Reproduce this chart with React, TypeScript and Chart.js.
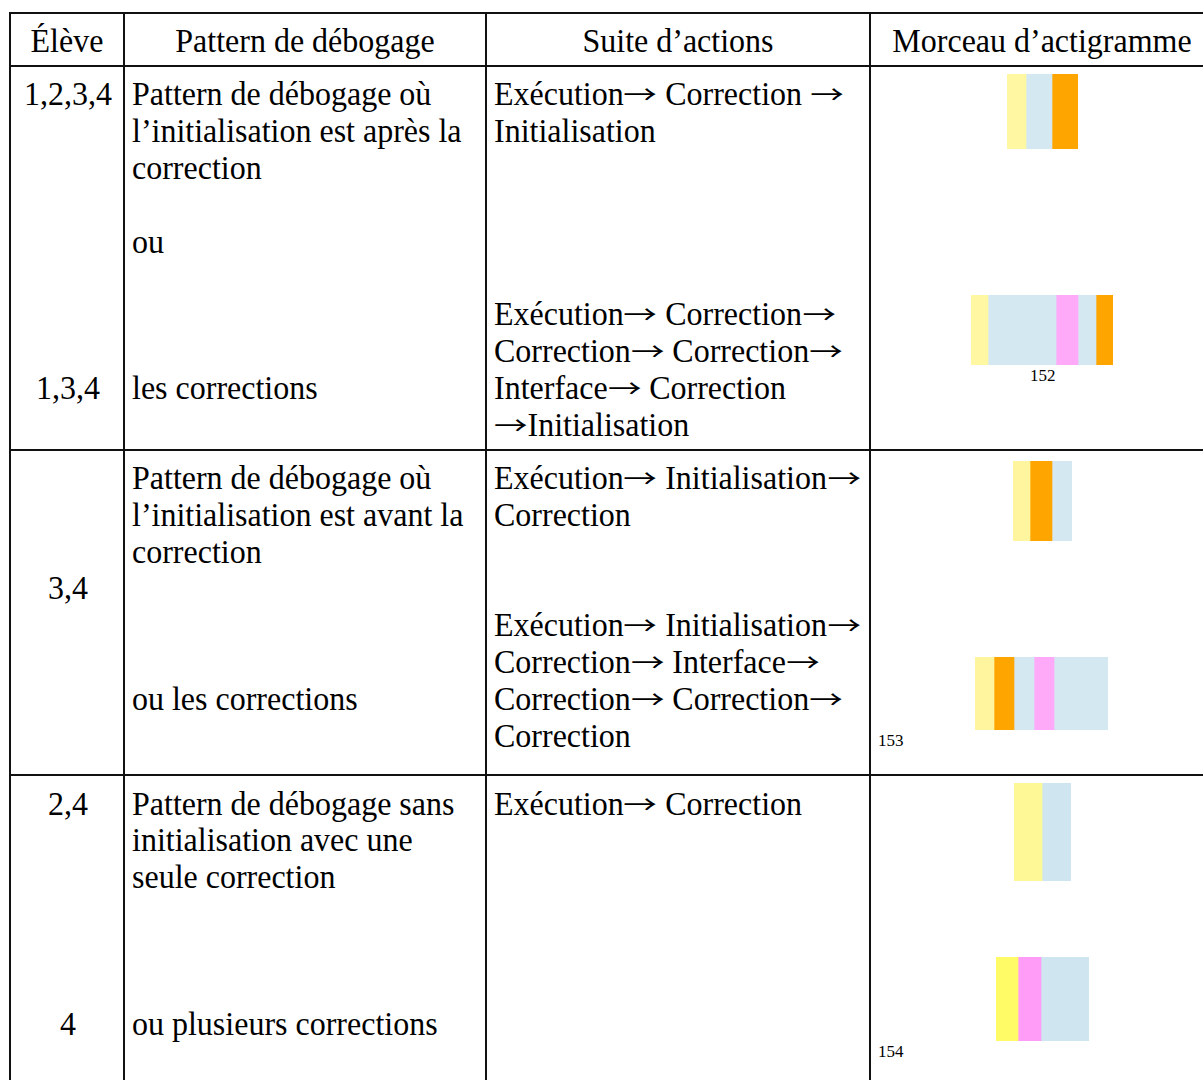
import React, { useEffect, useRef } from "react";
import { Chart, registerables } from "chart.js";

Chart.register(...registerables);

// ---- Data ----
const headers = ["Élève", "Pattern de débogage", "Suite d’actions", "Morceau d’actigramme"];

// actigram strips: durations (px units) of successive actions and their colours
const strip1Actions = ["Exécution", "Correction", "Initialisation"];
const strip1Durations = [19, 26, 26];
const strip1Colors = ["#FFF7A2", "#D4E8F2", "#FFA500"];

const strip2Actions = ["Exécution", "Correction", "Interface", "Correction", "Initialisation"];
const strip2Durations = [17, 68, 22, 18, 17];
const strip2Colors = ["#FFF7A2", "#D4E8F2", "#FFAAF9", "#D4E8F2", "#FFA500"];

const strip3Actions = ["Exécution", "Initialisation", "Correction"];
const strip3Durations = [17, 22, 20];
const strip3Colors = ["#FFF59E", "#FFA500", "#D4E8F2"];

const strip4Actions = ["Exécution", "Initialisation", "Correction", "Interface", "Correction"];
const strip4Durations = [19, 20, 20, 20, 54];
const strip4Colors = ["#FFF59E", "#FFA500", "#D4E8F2", "#FFAAF9", "#D4E8F2"];

const strip5Actions = ["Exécution", "Correction"];
const strip5Durations = [28, 29];
const strip5Colors = ["#FFF896", "#CFE6F1"];

const strip6Actions = ["Exécution", "Interface", "Correction"];
const strip6Durations = [22, 23, 48];
const strip6Colors = ["#FFFB66", "#FF9CF8", "#CFE6F1"];

const captions = ["152", "153", "154"];

// ---- Components ----
function Strip(props: {
  actions: string[];
  durations: number[];
  colors: string[];
  left: number;
  top: number;
  height: number;
}) {
  const ref = useRef<HTMLCanvasElement | null>(null);
  const total = props.durations.reduce((a, b) => a + b, 0);
  useEffect(() => {
    if (!ref.current) return;
    const chart = new Chart(ref.current, {
      type: "bar",
      data: {
        labels: [""],
        datasets: props.durations.map((d, i) => ({
          label: props.actions[i],
          data: [d],
          backgroundColor: props.colors[i],
          borderWidth: 0,
          barPercentage: 1,
          categoryPercentage: 1,
        })),
      },
      options: {
        indexAxis: "y",
        responsive: false,
        maintainAspectRatio: false,
        animation: false,
        layout: { padding: 0 },
        plugins: { legend: { display: false }, tooltip: { enabled: false } },
        scales: {
          x: { stacked: true, display: false, min: 0, max: total, grid: { display: false } },
          y: { stacked: true, display: false, grid: { display: false } },
        },
      },
    });
    return () => chart.destroy();
  }, []);
  return (
    <canvas
      ref={ref}
      width={total}
      height={props.height}
      style={{ position: "absolute", left: props.left, top: props.top, width: total, height: props.height }}
    />
  );
}

const FONT = "'Liberation Serif', 'Times New Roman', serif";
const FONT_SIZE = 33.4;
const SCALE_X = 0.958;

function withArrows(s: string) {
  const parts = s.split("→");
  const out: any[] = [];
  parts.forEach((p, i) => {
    if (i > 0)
      out.push(
        <span
          key={"a" + i}
          style={{
            display: "inline-block",
            width: 35,
            fontFamily: "'Noto Sans CJK JP', 'DejaVu Sans', sans-serif",
            fontSize: 25,
            lineHeight: "0px",
            transform: "translateY(-1.5px) scaleX(1.4)",
            transformOrigin: "left",
          }}
        >
          →
        </span>
      );
    out.push(<React.Fragment key={"t" + i}>{p}</React.Fragment>);
  });
  return out;
}

function T(props: { x: number; y: number; children: string; center?: boolean }) {
  const style: any = {
    position: "absolute",
    top: props.y - 16,
    height: 34,
    lineHeight: "34px",
    fontSize: FONT_SIZE,
    fontFamily: FONT,
    whiteSpace: "nowrap",
    color: "#000",
    transform: `scaleX(${SCALE_X})`,
  };
  if (props.center) {
    style.left = props.x - 250;
    style.width = 500;
    style.textAlign = "center";
    style.transformOrigin = "center";
  } else {
    style.left = props.x;
    style.transformOrigin = "left";
  }
  return <div style={style}>{withArrows(props.children)}</div>;
}

function HLine(props: { y: number }) {
  return <div style={{ position: "absolute", left: 9, top: props.y - 1, width: 1220, height: 2, background: "#111" }} />;
}
function VLine(props: { x: number; y0: number; y1: number }) {
  return <div style={{ position: "absolute", left: props.x - 1, top: props.y0 - 1, width: 2, height: props.y1 - props.y0 + 2, background: "#111" }} />;
}

function Caption(props: { x: number; y: number; children: any }) {
  return (
    <div style={{ position: "absolute", left: props.x, top: props.y - 10, fontSize: 17, lineHeight: "20px", fontFamily: FONT, color: "#000" }}>
      {props.children}
    </div>
  );
}

export default function App() {
  return (
    <div style={{ position: "fixed", left: 0, top: 0, width: 1203, height: 1080, background: "#fff", overflow: "hidden" }}>
      <HLine y={13} />
      <HLine y={66} />
      <HLine y={450} />
      <HLine y={775} />
      <VLine x={10} y0={13} y1={1100} />
      <VLine x={124} y0={13} y1={1100} />
      <VLine x={486} y0={13} y1={1100} />
      <VLine x={870} y0={13} y1={1100} />

      <T x={67} y={40} center>{headers[0]}</T>
      <T x={305} y={40} center>{headers[1]}</T>
      <T x={678} y={40} center>{headers[2]}</T>
      <T x={1042} y={40} center>{headers[3]}</T>

      <T x={68} y={93} center>1,2,3,4</T>
      <T x={68} y={387} center>1,3,4</T>
      <T x={68} y={587} center>3,4</T>
      <T x={68} y={803} center>2,4</T>
      <T x={68} y={1023} center>4</T>

      <T x={132} y={93}>Pattern de débogage où</T>
      <T x={132} y={130}>l’initialisation est après la</T>
      <T x={132} y={167}>correction</T>
      <T x={132} y={241}>ou</T>
      <T x={132} y={387}>les corrections</T>
      <T x={132} y={477}>Pattern de débogage où</T>
      <T x={132} y={514}>l’initialisation est avant la</T>
      <T x={132} y={551}>correction</T>
      <T x={132} y={698}>ou les corrections</T>
      <T x={132} y={803}>Pattern de débogage sans</T>
      <T x={132} y={839}>initialisation avec une</T>
      <T x={132} y={876}>seule correction</T>
      <T x={132} y={1023}>ou plusieurs corrections</T>

      <T x={494} y={93}>Exécution→ Correction →</T>
      <T x={494} y={130}>Initialisation</T>
      <T x={494} y={313}>Exécution→ Correction→</T>
      <T x={494} y={350}>Correction→ Correction→</T>
      <T x={494} y={387}>Interface→ Correction</T>
      <T x={494} y={424}>→Initialisation</T>
      <T x={494} y={477}>Exécution→ Initialisation→</T>
      <T x={494} y={514}>Correction</T>
      <T x={494} y={624}>Exécution→ Initialisation→</T>
      <T x={494} y={661}>Correction→ Interface→</T>
      <T x={494} y={698}>Correction→ Correction→</T>
      <T x={494} y={735}>Correction</T>
      <T x={494} y={803}>Exécution→ Correction</T>

      <Strip actions={strip1Actions} durations={strip1Durations} colors={strip1Colors} left={1007} top={74} height={75} />
      <Strip actions={strip2Actions} durations={strip2Durations} colors={strip2Colors} left={971} top={295} height={70} />
      <Strip actions={strip3Actions} durations={strip3Durations} colors={strip3Colors} left={1013} top={461} height={80} />
      <Strip actions={strip4Actions} durations={strip4Durations} colors={strip4Colors} left={975} top={657} height={73} />
      <Strip actions={strip5Actions} durations={strip5Durations} colors={strip5Colors} left={1014} top={783} height={98} />
      <Strip actions={strip6Actions} durations={strip6Durations} colors={strip6Colors} left={996} top={957} height={84} />

      <Caption x={1030} y={376}>{captions[0]}</Caption>
      <Caption x={878} y={741}>{captions[1]}</Caption>
      <Caption x={878} y={1052}>{captions[2]}</Caption>
    </div>
  );
}
